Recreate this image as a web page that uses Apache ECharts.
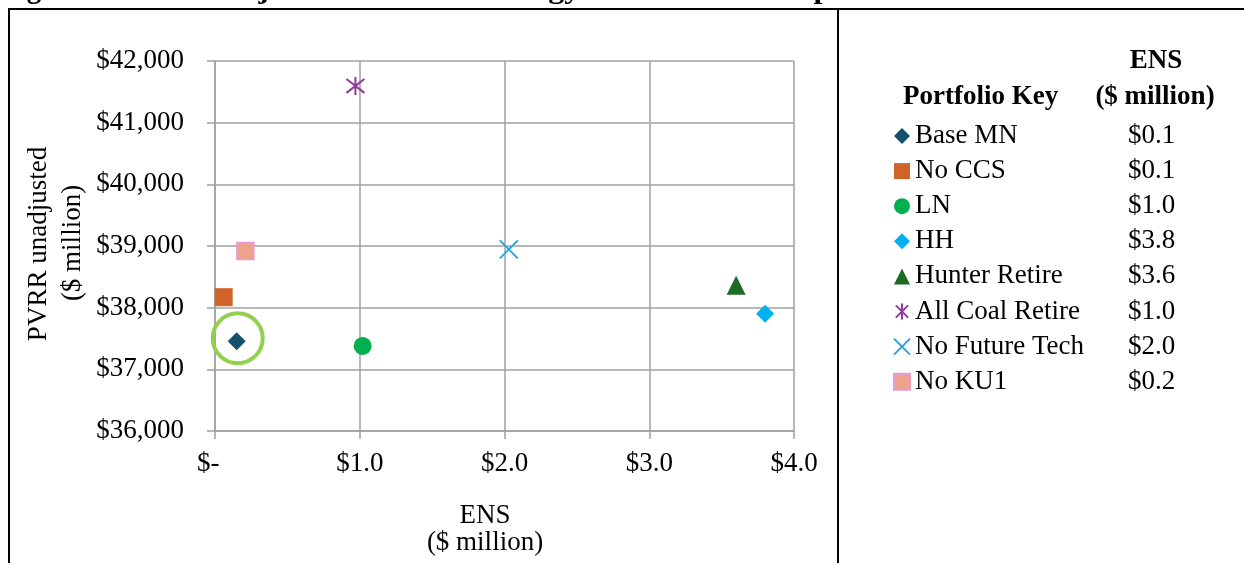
<!DOCTYPE html>
<html>
<head>
<meta charset="utf-8">
<script src="https://cdn.jsdelivr.net/npm/echarts@6/dist/echarts.min.js"></script>
<style>
html,body{margin:0;padding:0;background:#fff;}
#chart{width:1244px;height:563px;}
</style>
</head>
<body>
<div id="chart"></div>
<script>
// ---- data ----
var portfolios = ['Base MN', 'No CCS', 'LN', 'HH', 'Hunter Retire', 'All Coal Retire', 'No Future Tech', 'No KU1'];
var ensValues  = [0.15, 0.06, 1.02, 3.80, 3.60, 0.97, 2.03, 0.21];          // $ million
var pvrrValues = [37455, 38170, 37380, 37900, 38365, 41595, 38945, 38920];   // $ million
var ensTableLabels = ['$0.1', '$0.1', '$1.0', '$3.8', '$3.6', '$1.0', '$2.0', '$0.2'];
var yTicks = [36000, 37000, 38000, 39000, 40000, 41000, 42000];
var xTicks = [0, 1, 2, 3, 4];
var highlighted = 'Base MN';

// ---- styles ----
var FONT = '"Liberation Serif", "Times New Roman", serif';
var FS = 27;
var markerStyles = [
  {symbol: 'diamond', size: 18, itemStyle: {color: '#17506F', opacity: 1}},
  {symbol: 'rect', size: 18, itemStyle: {color: '#D2632B', opacity: 1}},
  {symbol: 'circle', size: 18, itemStyle: {color: '#00B050', opacity: 1}},
  {symbol: 'diamond', size: 18, itemStyle: {color: '#00B0F0', opacity: 1}},
  {symbol: 'triangle', size: 19, itemStyle: {color: '#1D6A27', opacity: 1}},
  {symbol: 'path://M0,0L10,10M10,0L0,10M5,-1.5L5,11.5', size: 18, itemStyle: {color: 'rgba(0,0,0,0)', borderColor: '#8F3B97', borderWidth: 2, opacity: 1}},
  {symbol: 'path://M0,0L10,10M10,0L0,10', size: 18, itemStyle: {color: 'rgba(0,0,0,0)', borderColor: '#2FA3D8', borderWidth: 2, opacity: 1}},
  {symbol: 'rect', size: 17, itemStyle: {color: '#EDA38B', borderColor: '#E89AD8', borderWidth: 1.5, opacity: 1}}
];

var GRID_LEFT = 215, GRID_TOP = 61, GRID_RIGHT = 1244 - 794, GRID_BOTTOM = 563 - 431;

var series = portfolios.map(function (name, i) {
  var m = markerStyles[i];
  return {
    name: name,
    type: 'scatter',
    symbol: m.symbol,
    symbolSize: m.size,
    itemStyle: m.itemStyle,
    data: [[ensValues[i], pvrrValues[i]]],
    z: 3
  };
});
var hi = portfolios.indexOf(highlighted);
series.push({
  name: 'highlight',
  type: 'scatter',
  symbol: 'circle',
  symbolSize: 50,
  symbolOffset: [1, -3],
  silent: true,
  itemStyle: {color: 'rgba(0,0,0,0)', borderColor: '#92D050', borderWidth: 4, opacity: 1},
  data: [[ensValues[hi], pvrrValues[hi]]],
  z: 2
});

var graphics = [
  // frame lines
  {type: 'line', shape: {x1: 8, y1: 9, x2: 1244, y2: 9}, style: {stroke: '#000', lineWidth: 2}},
  {type: 'line', shape: {x1: 9, y1: 8, x2: 9, y2: 563}, style: {stroke: '#000', lineWidth: 2}},
  {type: 'line', shape: {x1: 838, y1: 8, x2: 838, y2: 563}, style: {stroke: '#000', lineWidth: 2}},
  // clipped title
  {type: 'text', x: 1, y: -9, style: {text: 'Figure 7.5', font: 'bold 29px ' + FONT, fill: '#000', verticalAlign: 'middle'}},
  {type: 'text', x: 152, y: -9, scaleX: 1.14, style: {text: '\u2013  Unadjusted PVRR to Energy Not Served Comparison', font: 'bold 28px ' + FONT, fill: '#000', verticalAlign: 'middle'}},
  // y axis title
  {type: 'text', x: 39, y: 244, rotation: Math.PI / 2, style: {text: 'PVRR unadjusted', font: FS + 'px ' + FONT, fill: '#000', align: 'center', verticalAlign: 'middle'}},
  {type: 'text', x: 73, y: 243, rotation: Math.PI / 2, style: {text: '($ million)', font: FS + 'px ' + FONT, fill: '#000', align: 'center', verticalAlign: 'middle'}},
  // x axis title
  {type: 'text', x: 485, y: 516, style: {text: 'ENS', font: FS + 'px ' + FONT, fill: '#000', align: 'center', verticalAlign: 'middle'}},
  {type: 'text', x: 485, y: 543, style: {text: '($ million)', font: FS + 'px ' + FONT, fill: '#000', align: 'center', verticalAlign: 'middle'}},
  // legend table headers
  {type: 'text', x: 903, y: 97, style: {text: 'Portfolio Key', font: 'bold ' + FS + 'px ' + FONT, fill: '#000', align: 'left', verticalAlign: 'middle'}},
  {type: 'text', x: 1156, y: 61, style: {text: 'ENS', font: 'bold ' + FS + 'px ' + FONT, fill: '#000', align: 'center', verticalAlign: 'middle'}},
  {type: 'text', x: 1155, y: 97, style: {text: '($ million)', font: 'bold ' + FS + 'px ' + FONT, fill: '#000', align: 'center', verticalAlign: 'middle'}}
];
ensTableLabels.forEach(function (lab, i) {
  graphics.push({type: 'text', x: 1128, y: 136 + i * 35.1, style: {text: lab, font: FS + 'px ' + FONT, fill: '#000', align: 'left', verticalAlign: 'middle'}});
});

var chart = echarts.init(document.getElementById('chart'), null, {renderer: 'canvas'});
chart.setOption({
  animation: false,
  backgroundColor: '#fff',
  grid: {left: GRID_LEFT, top: GRID_TOP, right: GRID_RIGHT, bottom: GRID_BOTTOM, containLabel: false},
  xAxis: {
    type: 'value', min: xTicks[0], max: xTicks[xTicks.length - 1], interval: 1,
    axisLine: {show: true, lineStyle: {color: '#A0A0A0', width: 1.5}},
    axisTick: {show: true, length: 8, inside: false, lineStyle: {color: '#A0A0A0', width: 1.5}},
    splitLine: {show: true, lineStyle: {color: '#A0A0A0', width: 1.5}},
    axisLabel: {
      margin: 19, color: '#000', fontFamily: FONT, fontSize: FS,
      formatter: function (v) { return v === 0 ? '$-  ' : '$' + v.toFixed(1); }
    }
  },
  yAxis: {
    type: 'value', min: yTicks[0], max: yTicks[yTicks.length - 1], interval: 1000,
    axisLine: {show: true, lineStyle: {color: '#A0A0A0', width: 1.5}},
    axisTick: {show: true, length: 8, inside: false, lineStyle: {color: '#A0A0A0', width: 1.5}},
    splitLine: {show: true, lineStyle: {color: '#A0A0A0', width: 1.5}},
    axisLabel: {
      margin: 31, color: '#000', fontFamily: FONT, fontSize: FS,
      formatter: function (v) { return '$' + v.toLocaleString('en-US'); }
    }
  },
  legend: {
    data: portfolios,
    orient: 'vertical',
    left: 893, top: 122.5,
    itemWidth: 16, itemHeight: 16,
    itemGap: 8.1,
    padding: 0,
    selectedMode: false,
    textStyle: {fontFamily: FONT, fontSize: FS, color: '#000', lineHeight: 27}
  },
  graphic: graphics,
  series: series
});
</script>
</body>
</html>
